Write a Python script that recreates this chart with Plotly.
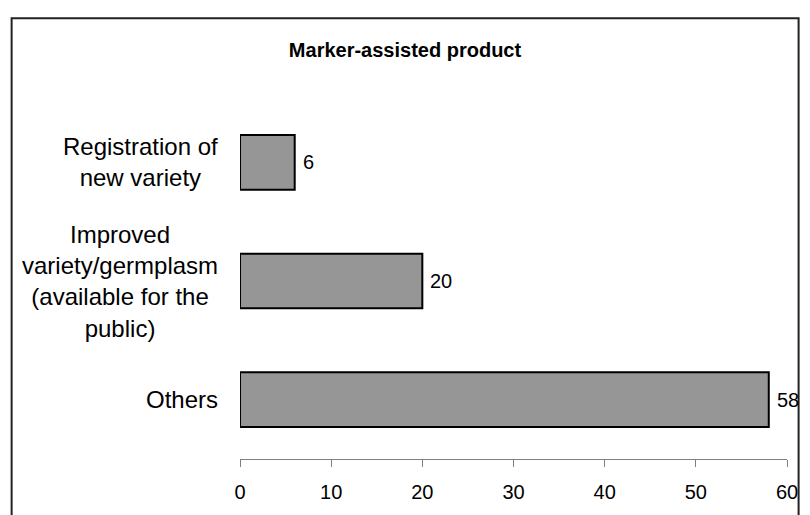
import plotly.graph_objects as go

categories = ["Registration of<br>new variety",
              "Improved<br>variety/germplasm<br>(available for the<br>public)",
              "Others"]
values = [6, 20, 58]
tick_vals = [0, 10, 20, 30, 40, 50, 60]
title_text = "Marker-assisted product"

FONT = "Liberation Sans, Arial, sans-serif"

fig = go.Figure()
fig.add_trace(go.Bar(
    x=values, y=categories, orientation="h",
    width=0.46,
    marker=dict(color="#969696", line=dict(color="#000000", width=2)),
    hoverinfo="skip",
))

annotations = []
for c, v in zip(categories, values):
    annotations.append(dict(x=v, y=c, xref="x", yref="y", text=str(v),
                            showarrow=False, xanchor="left", xshift=6,
                            font=dict(family=FONT, size=20, color="#000")))
    annotations.append(dict(x=0, y=c, xref="paper", yref="y", text=c,
                            showarrow=False, xanchor="right", xshift=-20,
                            align="center",
                            font=dict(family=FONT, size=24, color="#000")))

fig.update_layout(
    width=810, height=515,
    margin=dict(l=240, r=13, t=103, b=46, pad=0),
    paper_bgcolor="white", plot_bgcolor="white",
    showlegend=False,
    title=dict(text="<b>" + title_text + "</b>", xref="container", yref="container",
               x=0.5, xanchor="center", y=1 - 50 / 515, yanchor="middle",
               font=dict(family=FONT, size=20, color="#000")),
    annotations=annotations,
    shapes=[dict(type="rect", xref="paper", yref="paper",
                 x0=-0.4175, x1=1.0212, y0=-0.2, y1=1.2384,
                 line=dict(color="#222222", width=2), layer="below")],
    xaxis=dict(range=[0, 60], tickvals=tick_vals, showgrid=False, zeroline=False,
               showline=True, linecolor="#808080", linewidth=1,
               ticks="outside", ticklen=7, tickcolor="#808080", tickwidth=1,
               ticklabelstandoff=8,
               tickfont=dict(family=FONT, size=20, color="#000")),
    yaxis=dict(range=[2.5, -0.5], showticklabels=False, showgrid=False,
               zeroline=False, showline=False, ticks=""),
)

fig.write_html("out.html")
